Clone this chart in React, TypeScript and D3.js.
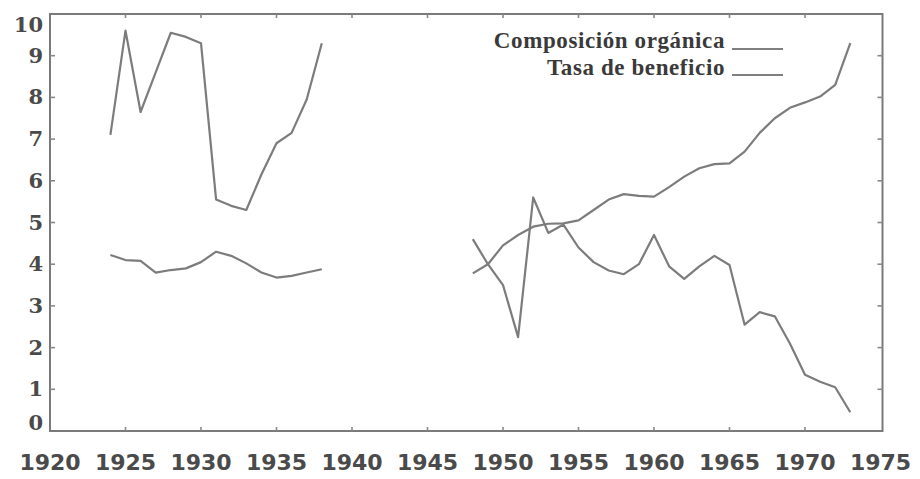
import React from 'react';
import * as d3 from 'd3';

// data (two periods, gap for the war years)
const prewarYears = [1924, 1925, 1926, 1927, 1928, 1929, 1930, 1931, 1932, 1933, 1934, 1935, 1936, 1937, 1938];
const organicaPre = [4.22, 4.1, 4.08, 3.8, 3.86, 3.9, 4.05, 4.3, 4.2, 4.02, 3.8, 3.68, 3.72, 3.8, 3.88];
const beneficioPre = [7.1, 9.6, 7.65, 8.6, 9.55, 9.45, 9.3, 5.55, 5.4, 5.3, 6.15, 6.9, 7.15, 7.95, 9.3];

const postwarYears = [
  1948, 1949, 1950, 1951, 1952, 1953, 1954, 1955, 1956, 1957, 1958, 1959, 1960,
  1961, 1962, 1963, 1964, 1965, 1966, 1967, 1968, 1969, 1970, 1971, 1972, 1973,
];
const organicaPost = [
  3.78, 4.0, 4.45, 4.7, 4.9, 4.97, 4.98, 5.05, 5.3, 5.55, 5.68, 5.64, 5.62,
  5.85, 6.1, 6.3, 6.4, 6.42, 6.7, 7.15, 7.5, 7.75, 7.88, 8.02, 8.3, 9.3,
];
const beneficioPost = [
  4.6, 4.0, 3.5, 2.25, 5.6, 4.75, 4.95, 4.4, 4.05, 3.85, 3.76, 4.0, 4.7,
  3.95, 3.65, 3.95, 4.2, 3.98, 2.55, 2.85, 2.75, 2.1, 1.35, 1.18, 1.05, 0.45,
];

const xTickLabels = [1920, 1925, 1930, 1935, 1940, 1945, 1950, 1955, 1960, 1965, 1970, 1975];
const yTickLabels = [0, 1, 2, 3, 4, 5, 6, 7, 8, 9, 10];
const legendLabels = ['Composición orgánica', 'Tasa de beneficio'];

const W = 920;
const H = 479;

const x = d3.scaleLinear().domain([1920, 1975]).range([50, 880.5]);
const y = d3.scaleLinear().domain([0, 10]).range([431, 14]);

const line = d3
  .line<[number, number]>()
  .x(d => x(d[0]))
  .y(d => y(d[1]));

const zip = (ys: number[], vs: number[]) => ys.map((yr, i) => [yr, vs[i]] as [number, number]);

const series = [
  zip(prewarYears, organicaPre),
  zip(prewarYears, beneficioPre),
  zip(postwarYears, organicaPost),
  zip(postwarYears, beneficioPost),
];

const frameColor = '#7a7a7a';
const lineColor = '#7c7c7c';
const textColor = '#4a4a4a';

export default function App() {
  const left = x(1920);
  const right = x(1975) + 2;
  const top = y(10);
  const bottom = y(0);
  const innerTicksX = xTickLabels.filter(d => d > 1920 && d < 1975);
  const innerTicksY = yTickLabels.filter(d => d > 0 && d < 10);

  return (
    <svg
      width={W}
      height={H}
      style={{ position: 'absolute', left: 0, top: 0, background: '#fff' }}
    >
      {/* frame */}
      <rect
        x={left}
        y={top}
        width={right - left}
        height={bottom - top}
        fill="none"
        stroke={frameColor}
        strokeWidth={2}
      />

      {/* tick marks, inward on all four sides */}
      {innerTicksX.map(d => (
        <g key={'xt' + d} stroke="#888" strokeWidth={1.6}>
          <line x1={x(d)} x2={x(d)} y1={top} y2={top + 4} />
          <line x1={x(d)} x2={x(d)} y1={bottom} y2={bottom - 4} />
        </g>
      ))}
      {innerTicksY.map(d => (
        <g key={'yt' + d} stroke="#888" strokeWidth={1.6}>
          <line x1={left} x2={left + 5} y1={y(d)} y2={y(d)} />
          <line x1={right} x2={right - 5} y1={y(d)} y2={y(d)} />
        </g>
      ))}

      {/* y labels */}
      {yTickLabels.map(d => (
        <text
          key={'yl' + d}
          x={43}
          y={Math.min(Math.max(y(d) + 7, 32), 430)}
          textAnchor="end"
          fontFamily="DejaVu Serif"
          fontWeight="bold"
          fontSize={21}
          fill={textColor}
        >
          {d}
        </text>
      ))}

      {/* x labels */}
      {xTickLabels.map(d => (
        <text
          key={'xl' + d}
          x={x(d)}
          y={470}
          textAnchor="middle"
          fontFamily="DejaVu Sans"
          fontWeight="bold"
          fontSize={22}
          fill={textColor}
        >
          {d}
        </text>
      ))}

      {/* series */}
      {series.map((s, i) => (
        <path
          key={'s' + i}
          d={line(s) || ''}
          fill="none"
          stroke={lineColor}
          strokeWidth={2.2}
          strokeLinejoin="round"
        />
      ))}

      {/* legend */}
      {legendLabels.map((lab, i) => (
        <g key={lab}>
          <text
            x={725}
            y={48 + i * 27}
            textAnchor="end"
            fontFamily="Liberation Serif"
            fontWeight="bold"
            fontSize={23}
            letterSpacing={0.6}
            fill="#3a3a3a"
          >
            {lab}
          </text>
          <line x1={732} x2={783} y1={49 + i * 26} y2={49 + i * 26} stroke="#555" strokeWidth={1.5} />
        </g>
      ))}
    </svg>
  );
}
